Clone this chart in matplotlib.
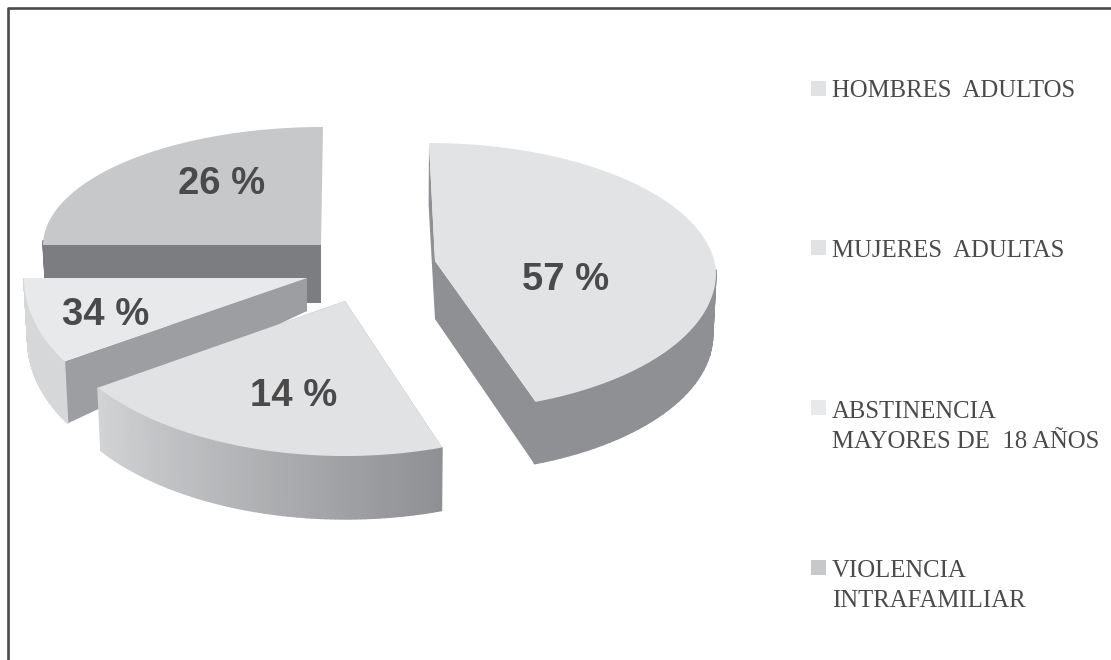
#!/usr/bin/env python3
"""Exploded pseudo-3D pie chart with a hand-placed legend."""

import matplotlib

matplotlib.use("Agg")
import matplotlib.pyplot as plt
import numpy as np
from matplotlib.colors import to_rgb
from matplotlib.patches import Rectangle

# Data. Sweeps are the drawn angles, which do not follow the printed labels.
slice_names = ["HOMBRES  ADULTOS", "MUJERES  ADULTAS", "ABSTINENCIA\nMAYORES DE  18 AÑOS", "VIOLENCIA\nINTRAFAMILIAR"]
slice_labels = ["57 %", "14 %", "34 %", "26 %"]
slice_sweeps = [159, 75, 31, 90]

# Layout and styles, in image pixels:
# apex x/y, rim centre drop, rx, ry back, ry front, start angle (clockwise), lean of the back half.
GEOMETRY = [
    (435, 261, 12, 281, 130, 138, 90, -6),
    (345, 301, 0, 298, 118, 155, -71, 0),
    (307, 278, 0, 283, 118, 162, -149, 0),
    (321, 245, 0, 278, 118, 118, 180, 2),
]
WALL_HEIGHT = [(58, 62), (60, 63), (33, 62), (58, 58)]  # apex, rim
CUT_ENDS = [(0, -1), (0, -1), (0, -1), (0,)]  # slice 4 shows no wall on its far cut
TOP_COLORS = ["#e2e3e5", "#e1e2e4", "#e8e9eb", "#c7c8ca"]
CUT_COLORS = ["#8f9093", "#9d9ea1", "#9d9ea1", "#7c7d80"]
RIM_COLORS = [("#8f9093", "#8f9093"), ("#8f9093", "#d2d3d5"), ("#d6d7d9", "#d6d7d9"), ("#7c7d80", "#7c7d80")]
LABEL_POS = [(566, 280), (294, 396), (106, 315), (222, 184)]
LEGEND_COLORS = ["#e1e2e4", "#e1e2e4", "#e8e9eb", "#c7c8ca"]
LEGEND_BOX_Y = [81, 240, 400, 560]
LEGEND_BASELINE = [97, 257, 448, 607]
TEXT_COLOR = "#4a4a4a"


def rim_points(i):
    ax_x, ax_y, drop, rx, ry_back, ry_front, start, lean = GEOMETRY[i]
    theta = np.radians(np.linspace(start, start - slice_sweeps[i], 80))
    sin_t = np.sin(theta)
    ry = np.where(sin_t > 0, ry_back, ry_front)
    xs = ax_x + rx * np.cos(theta) + lean * np.clip(sin_t, 0, 1)
    return xs, ax_y + drop - ry * sin_t, sin_t


def draw_slice(ax, i):
    ax_x, ax_y = GEOMETRY[i][:2]
    h_apex, h_rim = WALL_HEIGHT[i]
    xs, ys, sin_t = rim_points(i)
    low_x = 390 + (xs - 390) * 0.99

    # Cut faces running from the apex to both ends of the rim.
    for end in CUT_ENDS[i]:
        ax.fill(
            [ax_x, xs[end], low_x[end], ax_x],
            [ax_y, ys[end], ys[end] + h_rim, ax_y + h_apex],
            color=CUT_COLORS[i],
            linewidth=0,
            zorder=i * -10 + 1,
        )

    # Outer wall in small strips so it can carry the shading; the back half is hidden anyway.
    c0, c1 = np.array(to_rgb(RIM_COLORS[i][0])), np.array(to_rgb(RIM_COLORS[i][1]))
    for k in range(len(xs) - 1):
        if sin_t[k] > 0.02 and sin_t[k + 1] > 0.02:
            continue
        t = k / (len(xs) - 2)
        ax.fill(
            [xs[k], xs[k + 1], low_x[k + 1], low_x[k]],
            [ys[k], ys[k + 1], ys[k + 1] + h_rim, ys[k] + h_rim],
            color=c0 + (c1 - c0) * t,
            linewidth=1,
            zorder=i * -10 + 2,
        )

    ax.fill(
        np.r_[ax_x, xs],
        np.r_[ax_y, ys],
        color=TOP_COLORS[i],
        linewidth=0,
        zorder=i * -10 + 3,
    )


fig = plt.figure(figsize=(11.11, 6.6), dpi=100)
ax = fig.add_axes([0, 0, 1, 1])
ax.set_xlim(0, 1111)
ax.set_ylim(660, 0)
ax.axis("off")

# Front slices go last: slice 1, then 2, 3, 4 behind it.
for i in range(len(slice_sweeps)):
    draw_slice(ax, i)

for label, (x, y) in zip(slice_labels, LABEL_POS):
    ax.text(x, y, label, ha="center", va="center", fontsize=27.5, fontweight="bold",
            family="Liberation Sans", color=TEXT_COLOR, zorder=20)

for name, color, box_y, base in zip(slice_names, LEGEND_COLORS, LEGEND_BOX_Y, LEGEND_BASELINE):
    ax.add_patch(Rectangle((811, box_y), 15, 15, color=color, linewidth=0))
    ax.text(832, base, name, ha="left", va="baseline", fontsize=17.8, family="Liberation Serif",
            color=TEXT_COLOR, linespacing=1.47)

# Frame, open at the bottom.
ax.plot([7.5, 7.5, 1111], [660, 8.3, 8.3], color="#4a4a4a", linewidth=1.9, clip_on=False)

fig.savefig("out.png", dpi=100)
plt.close(fig)
